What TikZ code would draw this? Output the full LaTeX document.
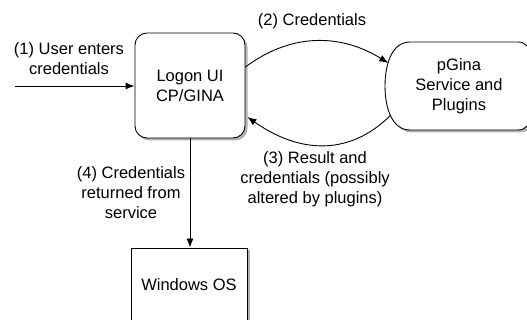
\documentclass[tikz,border=0pt]{standalone}
\usepackage{fontspec}
\setmainfont{Liberation Sans}
\usetikzlibrary{arrows.meta,shadows,shapes.misc}
\begin{document}
\begin{tikzpicture}[x=1pt,y=1pt,
  every node/.style={font=\fontsize{16.5}{20}\selectfont, align=center, inner sep=0pt},
  shad/.style={drop shadow={shadow xshift=2.5pt, shadow yshift=-2.5pt, fill=black!60, opacity=0.5}},
  boxrd/.style={draw, line width=0.9pt, fill=white, rounded corners=12pt, shad},
  boxsq/.style={draw, line width=0.9pt, fill=white, shad},
  outline/.style={draw, line width=0.9pt, fill=white, shad},
  pgbox/.style={rounded rectangle, rounded rectangle arc length=90},
  conn/.style={line width=0.9pt, -{Latex[length=9pt,width=7pt]}}]
\useasboundingbox (0,0) rectangle (527,-320);
\clip (0,0) rectangle (527,-320);
% pGina outline
\path[outline] (410,-42) -- (518,-42) .. controls (526,-42) and (530,-48) .. (530,-56)
  -- (530,-116) .. controls (530,-124) and (526,-130) .. (518,-130) -- (410,-130)
  .. controls (392,-130) and (385,-108) .. (385,-86)
  .. controls (385,-64) and (392,-42) .. (410,-42) -- cycle;
\node[boxrd, minimum width=110, minimum height=105] (logon) at (190,-85.5) {Logon UI\\CP/GINA};
\node[pgbox, minimum width=150, minimum height=88] (pgina) at (459,-86) {pGina\\Service and\\Plugins};
\node[boxsq, minimum width=116, minimum height=112] (win) at (189,-304) {};
\node (wintext) at (189,-285) {Windows OS};
\coordinate (in) at (15,-86);
\draw[conn] (in) -- (in -| logon.west);
\node (l1) at (69,-59) {(1) User enters\\credentials};
\draw[conn] ([yshift=18.5]logon.east) .. controls (295,-30) and (345,-36) .. (pgina.162);
\node (l2) at (312,-21) {(2) Credentials};
\draw[conn] (pgina.203) .. controls (350,-156) and (300,-154) .. ([yshift=-31.5,xshift=2]logon.east);
\node (l3) at (315,-179) {(3) Result and\\credentials (possibly\\altered by plugins)};
\draw[conn] (logon.south) -- (logon.south |- win.north);
\node (l4) at (131,-193) {(4) Credentials\\returned from\\service};
\end{tikzpicture}
\end{document}
